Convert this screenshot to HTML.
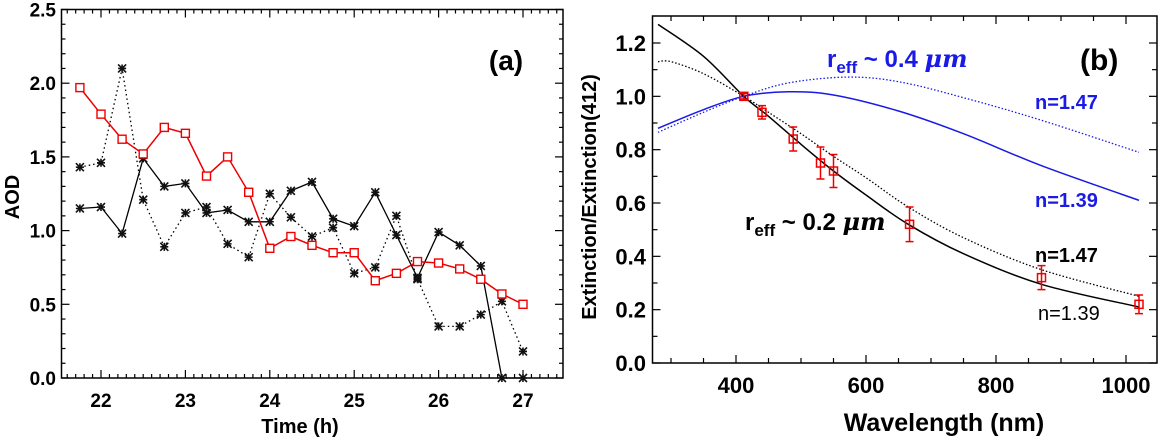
<!DOCTYPE html>
<html><head><meta charset="utf-8">
<style>
html,body{margin:0;padding:0;background:#fff;}
svg{display:block;font-family:"Liberation Sans",sans-serif;font-weight:bold;}
</style></head><body>
<svg id="chart" width="1162" height="443" viewBox="0 0 1162 443" xmlns="http://www.w3.org/2000/svg">
<g id="pa"></g>
<g id="pb"></g>
</svg>
<script>
// ---- Panel (a) data ----
const timesA = [21.75,22,22.25,22.5,22.75,23,23.25,23.5,23.75,24,24.25,24.5,24.75,25,25.25,25.5,25.75,26,26.25,26.5,26.75,27];
const aodRed = [1.97,1.79,1.62,1.52,1.70,1.66,1.37,1.50,1.26,0.88,0.96,0.90,0.85,0.85,0.66,0.71,0.79,0.78,0.74,0.67,0.57,0.50];
const aodSolid = [1.15,1.16,0.98,1.49,1.30,1.32,1.12,1.14,1.06,1.06,1.27,1.33,1.08,1.03,1.26,0.97,0.68,0.99,0.90,0.76,0.0,0.0];
const aodDotted = [1.43,1.46,2.10,1.21,0.89,1.12,1.16,0.91,0.82,1.25,1.09,0.96,1.02,0.71,0.75,1.10,0.67,0.35,0.35,0.43,0.52,0.18];
const xTicksA = [22,23,24,25,26,27];
const yTicksA = ["0.0","0.5","1.0","1.5","2.0","2.5"];
// ---- Panel (b) data ----
const wlBlackSolid = [280,350,412,450,500,550,600,665,750,870,1020];
const valBlackSolid = [1.27,1.15,1.0,0.925,0.82,0.72,0.63,0.52,0.41,0.295,0.21];
const wlBlackDot = [280,300,350,412,450,500,550,600,665,750,870,1020];
const valBlackDot = [1.13,1.13,1.085,1.0,0.94,0.86,0.775,0.695,0.585,0.47,0.35,0.25];
const wlBlueSolid = [280,350,412,480,550,650,750,870,1020];
const valBlueSolid = [0.88,0.95,1.0,1.017,1.005,0.945,0.86,0.74,0.61];
const wlBlueDot = [280,350,412,480,570,650,750,870,1020];
const valBlueDot = [0.865,0.94,1.0,1.05,1.072,1.055,0.995,0.91,0.79];
const wlObs = [412,440,488,530,550,667,870,1020];
const valObs = [1.0,0.94,0.84,0.75,0.72,0.52,0.32,0.22];
const errObs = [0.01,0.025,0.045,0.06,0.062,0.065,0.045,0.035];
const xTicksB = [400,600,800,1000];
const yTicksB = ["0.0","0.2","0.4","0.6","0.8","1.0","1.2"];

const NS="http://www.w3.org/2000/svg";
function mk(parent,tag,attrs,text){const e=document.createElementNS(NS,tag);for(const k in attrs)e.setAttribute(k,attrs[k]);if(text!==undefined)e.textContent=text;parent.appendChild(e);return e;}

// Panel a axes
const A={l:61.5,r:563,t:9.5,b:378};
const xa=v=>101+(v-22)*84.4;
const ya=v=>A.b-(v/2.5)*(A.b-A.t);
const pa=document.getElementById('pa');
let box=mk(pa,'rect',{x:A.l,y:A.t,width:A.r-A.l,height:A.b-A.t,fill:'none',stroke:'#000','stroke-width':1.5});


for(let i=0;;i++){const v=21.6+i*0.1; if(v>27.45)break; const x=xa(v); const major=Math.abs(v-Math.round(v))<0.01; const L=major?8:4;
 mk(pa,'line',{x1:x,y1:A.b,x2:x,y2:A.b-L,stroke:'#000','stroke-width':1.2});
 mk(pa,'line',{x1:x,y1:A.t,x2:x,y2:A.t+L,stroke:'#000','stroke-width':1.2});}
for(let i=0;i<=25;i++){const y=ya(i*0.1);const L=(i%5==0)?8:4;
 mk(pa,'line',{x1:A.l,y1:y,x2:A.l+L,y2:y,stroke:'#000','stroke-width':1.2});
 mk(pa,'line',{x1:A.r,y1:y,x2:A.r-L,y2:y,stroke:'#000','stroke-width':1.2});}
xTicksA.forEach(v=>{const t=mk(pa,'text',{x:xa(v),y:407,'font-size':19,'text-anchor':'middle'},String(v));
 
 });
yTicksA.forEach(s=>{const t=mk(pa,'text',{x:56,y:ya(parseFloat(s))+7,'font-size':19,'text-anchor':'end'},s);
 
 });
let tt=mk(pa,'text',{x:300,y:433,'font-size':20,'text-anchor':'middle'},'Time (h)');


tt=mk(pa,'text',{x:0,y:0,'font-size':20,'text-anchor':'middle',transform:'translate(19,197) rotate(-90)'},'AOD');


tt=mk(pa,'text',{x:506,y:70,'font-size':28,'text-anchor':'middle'},'(a)');


function pts(xs,ys,fx,fy){return xs.map((x,i)=>fx(x).toFixed(1)+','+fy(ys[i]).toFixed(1)).join(' ');}
let ln=mk(pa,'polyline',{points:pts(timesA,aodDotted,xa,ya),fill:'none',stroke:'#000','stroke-width':1.3,'stroke-dasharray':'1.5,3'});


ln=mk(pa,'polyline',{points:pts(timesA,aodSolid,xa,ya),fill:'none',stroke:'#000','stroke-width':1.3});


ln=mk(pa,'polyline',{points:pts(timesA,aodRed,xa,ya),fill:'none',stroke:'#e00','stroke-width':1.5});


function star(g,x,y){const s=4;
 mk(g,'path',{d:`M${x-s},${y-s}L${x+s},${y+s}M${x-s},${y+s}L${x+s},${y-s}M${x},${y-s}L${x},${y+s}M${x-s},${y}L${x+s},${y}`,stroke:'#111','stroke-width':1.6});}
timesA.forEach((t,i)=>{const g=mk(pa,'g',{});
 
 
 star(g,xa(t),ya(aodDotted[i]));});
timesA.forEach((t,i)=>{const g=mk(pa,'g',{});
 
 
 star(g,xa(t),ya(aodSolid[i]));});
timesA.forEach((t,i)=>{const r=mk(pa,'rect',{x:xa(t)-4,y:ya(aodRed[i])-4,width:8,height:8,fill:'#fff',stroke:'#e00','stroke-width':1.4});
 
 });

// Panel b axes
const B={l:652.5,r:1157,t:16,b:363};
const xb=v=>736+(v-400)*0.65;
const yb=v=>B.b-(v/1.2)*(B.b-43);
const pb=document.getElementById('pb');
box=mk(pb,'rect',{x:B.l,y:B.t,width:B.r-B.l,height:B.b-B.t,fill:'none',stroke:'#000','stroke-width':1.5});


for(let v=300;v<=1040;v+=50){const x=xb(v);const L=(v%200==0)?8:5;
 mk(pb,'line',{x1:x,y1:B.b,x2:x,y2:B.b-L,stroke:'#000','stroke-width':1.2});
 mk(pb,'line',{x1:x,y1:B.t,x2:x,y2:B.t+L,stroke:'#000','stroke-width':1.2});}
for(let i=0;i<=12;i++){const y=yb(i*0.1);const L=(i%2==0)?8:5;
 mk(pb,'line',{x1:B.l,y1:y,x2:B.l+L,y2:y,stroke:'#000','stroke-width':1.2});
 mk(pb,'line',{x1:B.r,y1:y,x2:B.r-L,y2:y,stroke:'#000','stroke-width':1.2});}
xTicksB.forEach(v=>{const t=mk(pb,'text',{x:xb(v),y:393,'font-size':22,'text-anchor':'middle'},String(v));
 
 });
yTicksB.forEach(s=>{const t=mk(pb,'text',{x:646,y:yb(parseFloat(s))+8,'font-size':22,'text-anchor':'end'},s);
 
 });
tt=mk(pb,'text',{x:944,y:431,'font-size':25,'text-anchor':'middle'},'Wavelength (nm)');


tt=mk(pb,'text',{x:0,y:0,'font-size':20,'text-anchor':'middle',transform:'translate(596,197) rotate(-90)'},'Extinction/Extinction(412)');


function smooth(xs,ys){const P=xs.map((x,i)=>[xb(x),yb(ys[i])]);let d=`M${P[0][0]},${P[0][1]}`;
 for(let i=0;i<P.length-1;i++){const p0=P[Math.max(0,i-1)],p1=P[i],p2=P[i+1],p3=P[Math.min(P.length-1,i+2)];
  const c1=[p1[0]+(p2[0]-p0[0])/6,p1[1]+(p2[1]-p0[1])/6],c2=[p2[0]-(p3[0]-p1[0])/6,p2[1]-(p3[1]-p1[1])/6];
  d+=`C${c1[0].toFixed(1)},${c1[1].toFixed(1)} ${c2[0].toFixed(1)},${c2[1].toFixed(1)} ${p2[0].toFixed(1)},${p2[1].toFixed(1)}`;}
 return d;}
ln=mk(pb,'path',{d:smooth(wlBlueDot,valBlueDot),fill:'none',stroke:'#1a1ae6','stroke-width':1.3,'stroke-dasharray':'1.5,2'});


ln=mk(pb,'path',{d:smooth(wlBlueSolid,valBlueSolid),fill:'none',stroke:'#1a1ae6','stroke-width':1.5});


ln=mk(pb,'path',{d:smooth(wlBlackDot,valBlackDot),fill:'none',stroke:'#000','stroke-width':1.3,'stroke-dasharray':'1.5,2'});


ln=mk(pb,'path',{d:smooth(wlBlackSolid,valBlackSolid),fill:'none',stroke:'#000','stroke-width':1.5});


wlObs.forEach((w,i)=>{const g=mk(pb,'g',{stroke:'#e00','stroke-width':1.5,fill:'none'});
 
 
 const x=xb(w),y=yb(valObs[i]),y1=yb(valObs[i]+errObs[i]),y2=yb(valObs[i]-errObs[i]);
 mk(g,'path',{d:`M${x},${y1}L${x},${y2}M${x-4},${y1}L${x+4},${y1}M${x-4},${y2}L${x+4},${y2}`});
 mk(g,'rect',{x:x-4,y:y-4,width:8,height:8});});
function lbl(x,y,size,col,txt,name){const t=mk(pb,'text',{x:x,y:y,'font-size':size,fill:col},txt);
 
 return t;}
lbl(1080,70,30,'#000','(b)','panel-label-b');
let r1=lbl(827,67,24,'#1a1ae6','r','label-reff-04');
mk(r1,'tspan',{'font-size':17,dy:6},'eff');
mk(r1,'tspan',{dy:-6},' ~ 0.4 ');
mk(r1,'tspan',{'font-style':'italic','font-family':'"DejaVu Serif",serif'},'μm');
let r2=lbl(745,230,24,'#000','r','label-reff-02');
mk(r2,'tspan',{'font-size':17,dy:6},'eff');
mk(r2,'tspan',{dy:-6},' ~ 0.2 ');
mk(r2,'tspan',{'font-style':'italic','font-family':'"DejaVu Serif",serif'},'μm');
lbl(1035,109,20,'#1a1ae6','n=1.47','label-blue-n147');
lbl(1035,207,20,'#1a1ae6','n=1.39','label-blue-n139');
lbl(1035,262,20,'#000','n=1.47','label-black-n147');
lbl(1038,320,20,'#000','n=1.39','label-black-n139').setAttribute('font-weight','normal');
</script>
</body></html>
